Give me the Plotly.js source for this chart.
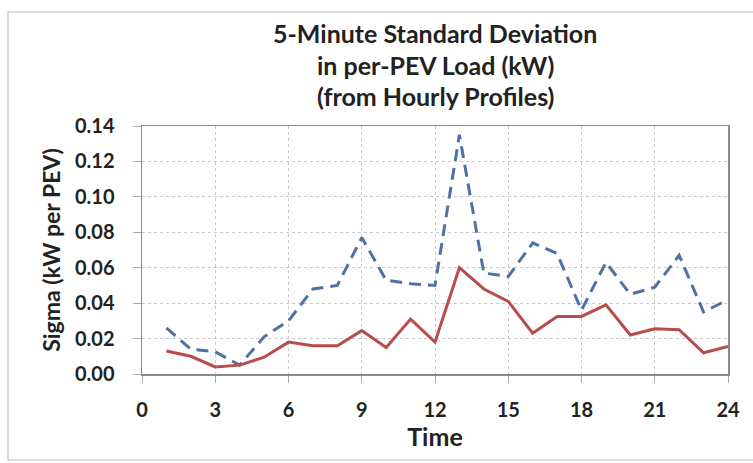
<!DOCTYPE html>
<html>
<head>
<meta charset="utf-8">
<script src="https://cdn.plot.ly/plotly-3.0.1.min.js"></script>
<style>html,body{margin:0;padding:0;background:#fff;}#chart{width:753px;height:463px;}</style>
</head>
<body>
<div id="chart"></div>
<script>
const hours = [1,2,3,4,5,6,7,8,9,10,11,12,13,14,15,16,17,18,19,20,21,22,23,24];
const sigmaDashed = [0.026,0.014,0.0125,0.005,0.021,0.030,0.048,0.050,0.077,0.053,0.051,0.050,0.135,0.057,0.055,0.074,0.068,0.036,0.063,0.045,0.049,0.067,0.035,0.042];
const sigmaSolid = [0.013,0.010,0.004,0.005,0.0095,0.018,0.016,0.016,0.0245,0.015,0.031,0.018,0.060,0.048,0.041,0.023,0.0325,0.0325,0.039,0.022,0.0255,0.025,0.012,0.0155];
const xTicks = [0,3,6,9,12,15,18,21,24];
const yTicks = [0,0.02,0.04,0.06,0.08,0.10,0.12,0.14];
const titleLines = ["5-Minute Standard Deviation","in per-PEV Load (kW)","(from Hourly Profiles)"];

const font = "Lato, 'Open Sans', sans-serif";
const L = 142, R = 728, T = 126, B = 374, W = 753, H = 463;
const py = p => (B - p) / (B - T);
const px = p => (p - L) / (R - L);
const titleY = [33, 65, 96];

const traces = [
  {x: hours, y: sigmaDashed, type: 'scatter', mode: 'lines', name: 'dashed',
   line: {color: '#4d72a3', width: 3, dash: '12px,7px'}},
  {x: hours, y: sigmaSolid, type: 'scatter', mode: 'lines', name: 'solid',
   line: {color: '#b84c4c', width: 3}}
];
const layout = {
  width: W, height: H,
  margin: {l: L, r: W - R, t: T, b: H - B},
  paper_bgcolor: '#fff', plot_bgcolor: '#fff',
  showlegend: false,
  font: {family: font, color: '#222'},
  xaxis: {range: [0, 24], tickvals: xTicks, ticktext: xTicks.map(String),
          ticks: 'outside', ticklen: 7, tickcolor: '#aaa', ticklabelstandoff: 10,
          showgrid: true, gridcolor: '#c8c8c8', griddash: 'dot', gridwidth: 1,
          showline: true, linecolor: '#8a8a8a', linewidth: 1.5, mirror: true,
          zeroline: false,
          tickfont: {family: font, size: 20, weight: 'bold', color: '#222'},
          title: {text: 'Time', standoff: 6, font: {family: font, size: 25, weight: 'bold', color: '#222'}}},
  yaxis: {range: [0, 0.14], tickvals: yTicks, ticktext: yTicks.map(v => v.toFixed(2)),
          ticks: 'outside', ticklen: 8, tickcolor: '#aaa', ticklabelstandoff: 14,
          showgrid: true, gridcolor: '#c8c8c8', griddash: 'dot', gridwidth: 1,
          showline: true, linecolor: '#8a8a8a', linewidth: 1.5, mirror: true,
          zeroline: false,
          tickfont: {family: font, size: 20, weight: 'bold', color: '#222'},
          title: {text: 'Sigma (kW per PEV)', standoff: 8, font: {family: font, size: 23, weight: 'bold', color: '#222'}}},
  annotations: titleLines.map((t, i) => ({
    text: t, xref: 'paper', yref: 'paper', x: 0.5, y: py(titleY[i]),
    xanchor: 'center', yanchor: 'middle', showarrow: false,
    font: {family: font, size: 25, weight: 'bold', color: '#222'}
  })),
  shapes: [{type: 'rect', xref: 'paper', yref: 'paper', layer: 'below',
            x0: px(8), x1: px(760), y0: py(460), y1: py(12),
            line: {color: '#cfcfcf', width: 1.5}, fillcolor: 'rgba(0,0,0,0)'}]
};
Plotly.newPlot('chart', traces, layout, {displayModeBar: false, staticPlot: true});
</script>
</body>
</html>
